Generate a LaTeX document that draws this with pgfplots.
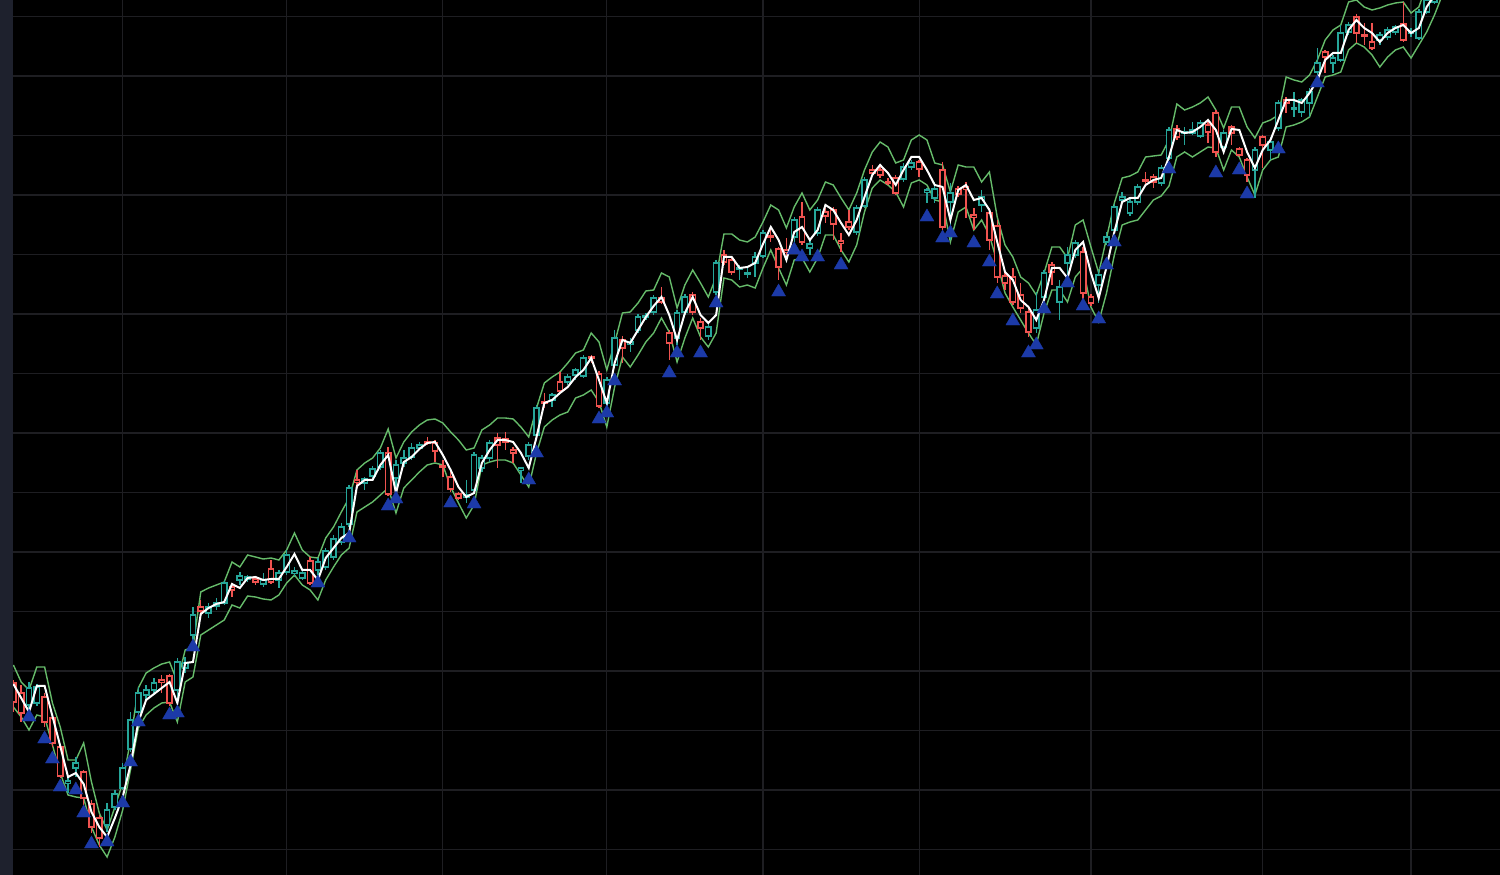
\documentclass[border=0pt]{standalone}
\usepackage{pgfplots}
\pgfplotsset{compat=1.18}
\usepackage{pgfplotstable}

\definecolor{upc}{RGB}{38,166,154}
\definecolor{dnc}{RGB}{239,83,80}
\definecolor{band}{RGB}{102,187,106}
\definecolor{tri}{RGB}{28,58,168}
\definecolor{gridc}{RGB}{30,30,34}
\definecolor{strip}{RGB}{30,33,45}

% candles, in pixel rows (y grows downwards)
% i open high low close mid upper lower
\pgfplotstableread{
i o h l c m u b
0 683 680 712 702 684 665 707
1 693 685 722 713 698 682 717
2 705 682 712 688 712 690 730
3 703 684 706 687 686 667 715
4 697 693 727 722 686 667 717
5 718 714 747 743 716 703 745
6 747 745 778 776 746 727 773
7 783 778 793 781 777 760 795
8 768 757 777 763 773 760 797
9 772 770 807 798 784 743 798
10 804 800 833 827 812 782 827
11 818 815 847 838 827 813 845
12 825 803 832 810 837 830 857
13 807 790 810 794 818 807 837
14 788 763 790 768 797 783 810
15 749 712 752 720 765 740 770
16 712 687 716 693 722 688 728
17 695 685 700 690 700 673 715
18 690 678 693 683 694 668 708
19 680 675 693 682 688 664 703
20 676 674 706 703 682 662 702
21 690 658 705 662 703 682 722
22 668 657 673 663 663 650 682
23 635 607 640 615 662 647 677
24 607 600 617 611 614 592 635
25 613 603 618 607 608 588 630
26 606 598 610 603 604 585 625
27 603 580 605 583 602 582 620
28 587 583 597 590 584 562 605
29 580 572 585 576 588 567 608
30 579 575 582 577 578 555 596
31 579 577 585 582 577 557 597
32 584 573 587 580 580 559 599
33 569 560 584 582 579 558 600
34 580 570 588 573 579 560 595
35 572 550 575 555 567 550 583
36 573 567 577 571 554 533 575
37 578 570 580 573 570 550 585
38 561 557 585 583 570 557 590
39 570 558 575 562 580 558 600
40 567 548 570 551 558 538 580
41 557 535 560 539 548 527 567
42 542 523 545 527 538 512 555
43 524 485 527 488 533 498 548
44 480 470 488 482 486 470 512
45 483 477 490 479 480 463 507
46 476 466 478 469 480 458 502
47 467 450 470 453 465 448 495
48 453 447 496 494 455 429 488
49 478 460 490 465 493 458 513
50 463 450 467 458 462 442 488
51 457 443 460 448 457 432 480
52 448 442 450 445 449 425 472
53 442 437 445 443 443 420 465
54 443 440 462 451 442 419 463
55 466 460 477 467 455 423 465
56 477 472 492 489 470 432 487
57 494 492 500 498 487 440 503
58 497 480 503 495 497 450 518
59 490 452 493 455 493 448 505
60 468 455 472 458 463 430 465
61 458 440 462 443 450 425 462
62 438 433 468 445 440 418 460
63 439 432 450 442 440 418 460
64 450 447 463 453 442 419 463
65 470 467 483 468 453 427 475
66 456 442 460 445 468 437 487
67 435 405 440 408 437 408 453
68 402 393 408 403 403 383 427
69 400 393 407 395 400 377 420
70 382 372 393 391 393 372 415
71 382 374 385 377 387 363 412
72 375 368 380 370 377 353 398
73 376 355 378 358 370 350 395
74 357 355 363 358 358 333 390
75 374 371 408 406 380 342 402
76 403 377 406 380 403 370 427
77 365 330 368 338 363 343 387
78 340 336 363 348 340 313 357
79 344 338 352 342 343 312 367
80 330 314 333 317 330 303 355
81 317 313 320 316 317 291 342
82 312 295 315 298 306 290 333
83 298 287 304 302 297 273 318
84 333 330 360 343 315 277 332
85 338 310 345 313 340 308 362
86 312 294 315 297 313 285 338
87 295 292 315 312 297 270 318
88 322 318 340 328 315 283 337
89 336 323 340 327 323 297 347
90 292 260 295 263 315 277 333
91 255 250 265 262 257 234 278
92 260 257 275 272 257 234 280
93 269 265 280 268 268 240 287
94 274 268 278 273 267 242 285
95 263 252 277 257 263 237 288
96 256 230 258 233 244 222 268
97 236 227 242 237 227 205 250
98 249 247 280 267 240 210 268
99 250 238 258 252 260 228 285
100 237 217 242 220 232 207 260
101 217 202 245 242 227 193 258
102 248 240 255 244 240 210 272
103 233 207 236 210 230 200 258
104 212 208 223 216 205 182 235
105 210 207 240 224 210 185 235
106 241 233 252 243 223 198 250
107 222 210 230 227 235 210 262
108 232 205 235 208 220 193 245
109 206 177 208 180 197 170 212
110 170 165 176 173 175 152 188
111 170 167 178 175 165 142 180
112 182 178 185 183 173 147 185
113 178 175 195 193 185 163 192
114 179 163 182 167 170 160 207
115 167 160 170 163 157 140 183
116 162 160 177 169 157 135 180
117 192 188 203 190 170 140 185
118 198 182 203 189 185 163 200
119 170 162 230 227 187 165 202
120 202 183 240 193 220 192 242
121 189 186 197 194 190 165 212
122 187 182 218 189 185 167 207
123 215 208 230 217 200 167 230
124 205 190 212 197 198 182 220
125 213 208 250 240 210 172 235
126 226 220 283 277 242 217 263
127 276 272 290 283 272 245 293
128 277 268 305 302 280 257 307
129 295 283 313 308 300 277 320
130 312 308 337 332 307 283 333
131 328 292 333 310 320 295 345
132 297 270 300 273 300 273 313
133 265 262 285 272 268 247 290
134 302 280 320 287 268 247 290
135 263 247 280 255 278 258 302
136 255 240 258 243 250 225 277
137 252 247 300 293 242 220 268
138 297 294 306 303 273 247 307
139 285 270 303 275 298 273 322
140 242 232 245 237 267 238 293
141 230 204 233 207 232 203 255
142 200 192 203 197 202 178 225
143 213 199 216 202 198 176 222
144 202 184 205 187 198 172 220
145 180 172 185 181 185 157 210
146 177 174 188 182 180 156 200
147 183 165 186 168 178 155 196
148 158 127 160 130 157 140 186
149 129 125 140 137 130 104 157
150 133 127 145 132 133 110 152
151 133 122 135 130 132 107 157
152 136 120 138 123 127 103 152
153 125 122 143 132 120 97 147
154 113 110 157 152 130 110 148
155 147 130 153 133 152 128 170
156 127 125 145 133 129 107 150
157 149 147 157 155 130 107 157
158 160 158 182 175 152 127 177
159 170 147 198 150 168 138 195
160 137 135 168 145 150 123 170
161 150 137 160 142 140 120 160
162 128 100 131 103 120 115 157
163 100 97 113 103 100 77 127
164 109 92 117 108 100 80 125
165 112 98 117 100 103 82 122
166 103 88 117 92 93 75 117
167 72 48 75 63 80 60 97
168 52 50 73 57 60 40 77
169 63 55 73 58 53 30 75
170 60 25 62 33 53 25 72
171 32 22 35 25 30 2 50
172 17 14 43 33 20 0 43
173 35 23 45 36 28 7 47
174 42 23 50 48 33 10 55
175 40 32 45 35 42 8 67
176 37 27 40 30 33 5 57
177 32 25 35 27 28 3 50
178 24 2 42 40 25 2 47
179 33 28 37 32 33 13 58
180 38 9 40 12 28 7 45
181 12 -3 14 0 7 -15 32
182 2 -14 4 -10 -5 -30 15
183 -12 -28 -10 -25 -20 -45 -5
}\data

\pgfplotstableread{
i y
2 717
4 739
5 759
6 787
8 790
9 813
10 844
12 842
14 803
15 762
16 722
20 715
21 713
23 647
39 583
43 538
48 506
49 499
56 503
59 504
66 480
67 453
75 419
76 413
77 381
84 373
85 353
88 353
90 303
98 292
100 250
101 257
103 257
106 265
117 217
119 238
120 233
123 243
125 262
126 294
128 321
130 353
131 345
132 309
135 283
137 306
139 319
140 265
141 242
148 169
154 173
157 170
158 194
162 149
167 83
}\marks

% vertical bars drawn as error bars, all lengths in data units
\pgfplotsset{
  vbar/.style 2 args={draw=none, mark=none,
    error bars/y dir=plus, error bars/y explicit, error bars/error mark=none,
    error bars/error bar style={draw=#1, line width=#2, line cap=butt, solid}},
  up/.style={restrict expr to domain={\thisrow{o}-\thisrow{c}}{0:1000}},
  dn/.style={restrict expr to domain={\thisrow{c}-\thisrow{o}}{0.5:1000}},
}

\begin{document}
\begin{tikzpicture}
\begin{axis}[
  width=148.7mm, height=87.5mm, scale only axis,
  xmin=-0.05, xmax=190.39, ymin=0, ymax=875, y dir=reverse,
  axis background/.style={fill=black},
  axis line style={draw=none},
  xtick={14,35,55,76,96,116,138,160,179},
  ytick={16.5,76,135.5,195,254.5,314,373.5,433,492.5,552,611.5,671,730.5,790,849.5},
  xticklabels={}, yticklabels={}, major tick length=0pt,
  grid=major, major grid style={gridc, line width=0.12mm},
  clip marker paths=true,
]
\addplot[band, line width=0.14mm] table[x=i, y=u] {\data};
\addplot[band, line width=0.14mm] table[x=i, y=b] {\data};

% wicks
\addplot[up, vbar={upc}{0.14mm}]
  table[x=i, y=h, y error expr=\thisrow{l}-\thisrow{h}] {\data};
\addplot[dn, vbar={dnc}{0.14mm}]
  table[x=i, y=h, y error expr=\thisrow{l}-\thisrow{h}] {\data};
% bodies: coloured outer bar, black inner bar
\addplot[up, vbar={upc}{0.68mm}]
  table[x=i, y expr={min(\thisrow{o},\thisrow{c})-0.75},
        y error expr={abs(\thisrow{o}-\thisrow{c})+1.5}] {\data};
\addplot[dn, vbar={dnc}{0.68mm}]
  table[x=i, y expr={min(\thisrow{o},\thisrow{c})-0.75},
        y error expr={abs(\thisrow{o}-\thisrow{c})+1.5}] {\data};
\addplot[vbar={black}{0.38mm}]
  table[x=i, y expr={min(\thisrow{o},\thisrow{c})+0.75},
        y error expr={max(abs(\thisrow{o}-\thisrow{c})-1.5,0)}] {\data};

\addplot[white, line width=0.2mm] table[x=i, y=m] {\data};

\addplot[only marks, mark=triangle*, mark size=2.3pt, tri,
  mark options={draw=tri, fill=tri, line width=0.1pt}] table[x=i, y=y] {\marks};
\end{axis}
\fill[strip] ([xshift=-1.3mm]current axis.south west) rectangle (current axis.north west);
\pgfresetboundingbox
\path[use as bounding box] ([xshift=-1.3mm]current axis.south west) rectangle (current axis.north east);
\end{tikzpicture}
\end{document}
